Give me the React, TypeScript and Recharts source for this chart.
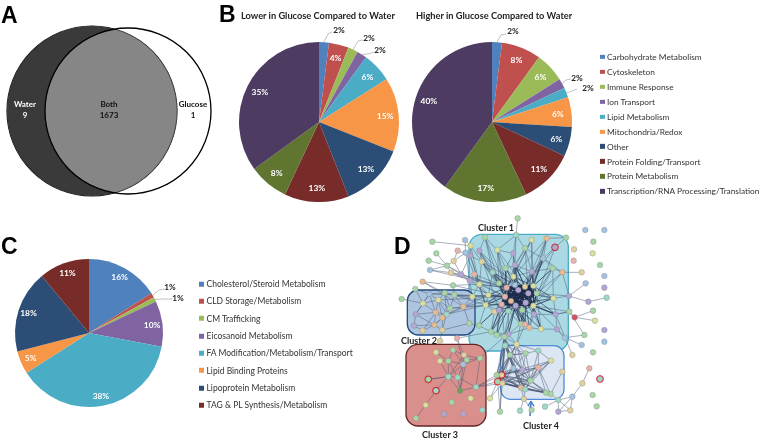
import { Pie, PieChart, Cell, ReferenceArea, ReferenceLine, Scatter, ScatterChart, XAxis, YAxis } from 'recharts'

const FONT = 'Lato, "Open Sans", sans-serif'
const LETTER_FONT = '"Liberation Sans", Arial, sans-serif'

// panel A, venn counts
const vennLabels = [
  { name: 'Water', count: '9', color: '#fff' },
  { name: 'Both', count: '1673', color: '#111' },
  { name: 'Glucose', count: '1', color: '#111' },
]
const vennCircles = [
  { set: 'Water', x: 92, y: 111, r: 85 },
  { set: 'Glucose', x: 128, y: 111, r: 83 },
]

// panel B
const processNames = [
  'Carbohydrate Metabolism',
  'Cytoskeleton',
  'Immune Response',
  'Ion Transport',
  'Lipid Metabolism',
  'Mitochondria/Redox',
  'Other',
  'Protein Folding/Transport',
  'Protein Metabolism',
  'Transcription/RNA Processing/Translation',
]
const lowerPct = [2, 4, 2, 2, 6, 15, 13, 13, 8, 35]
const higherPct = [2, 8, 6, 2, 2, 6, 6, 11, 17, 40]

// panel C
const lipidNames = [
  'Cholesterol/Steroid Metabolism',
  'CLD Storage/Metabolism',
  'CM Trafficking',
  'Eicosanoid Metabolism',
  'FA Modification/Metabolism/Transport',
  'Lipid Binding Proteins',
  'Lipoprotein Metabolism',
  'TAG & PL Synthesis/Metabolism',
]
const lipidPct = [16, 1, 1, 10, 38, 5, 18, 11]

const SLICE_COLORS = ['#4F81BD', '#C0504D', '#9BBB59', '#8064A2', '#4BACC6', '#F79646', '#2C4D75', '#772C2A', '#5F7530', '#4D3B62']

// panel D, network layout: [id, x, y, tint]
const networkNodes: [string, number, number, string][] = [
  ['c1', 300, 67, 'g'], ['c2', 257, 92, 'y'], ['c3', 283, 107, 'p'], ['c4', 242, 113, 'b'], ['c5', 256, 122, 'p'],
  ['c6', 337, 105, 'y'], ['c7', 385, 115, 'p'], ['c8', 420, 100, 'g'], ['c9', 440, 75, 'y'], ['c10', 485, 70, 'o'],
  ['c11', 510, 97, 'p'], ['c12', 475, 130, 'b'], ['c13', 290, 140, 'n'], ['c14', 390, 150, 'p'], ['c15', 503, 160, 'g'],
  ['c16', 532, 172, 'o'], ['c17', 362, 160, 'g'], ['c18', 440, 170, 'p'], ['c19', 323, 172, 't'], ['c20', 268, 178, 's'],
  ['c21', 385, 185, 'y'], ['c22', 254, 197, 'p'], ['c23', 283, 208, 'y'], ['c24', 342, 205, 'g'], ['c25', 445, 213, 'y'],
  ['c26', 430, 235, 'p'], ['c27', 365, 218, 's'], ['c28', 360, 245, 's'], ['c29', 350, 268, 's'], ['c30', 378, 258, 'o'],
  ['c31', 302, 270, 'y'], ['c32', 328, 290, 'n'], ['c33', 342, 285, 'p'], ['c34', 370, 288, 't'], ['c35', 422, 263, 'p'],
  ['c36', 445, 272, 'y'], ['c37', 392, 272, 'p'], ['c38', 412, 285, 'g'], ['c39', 447, 298, 'p'], ['c40', 505, 250, 'y'],
  ['c41', 512, 298, 'p'], ['c42', 407, 327, 'g'], ['c43', 420, 328, 's'], ['c44', 433, 338, 'o'], ['c45', 468, 342, 'y'],
  ['c46', 516, 343, 'p'], ['c47', 318, 350, 'g'], ['c48', 335, 360, 'g'], ['c49', 370, 358, 'p'], ['c50', 358, 365, 'g'],
  ['c51', 395, 388, 'y'], ['c52', 540, 368, 'b'], ['c53', 360, 392, 't'], ['c54', 282, 332, 'g'], ['c55', 393, 60, 't'],
  ['c56', 310, 240, 'y'], ['c57', 400, 225, 'p'], ['c58', 420, 215, 'n'], ['c59', 390, 210, 'b'], ['c60', 455, 235, 'g'],
  ['l1', 133, 237, 'b'], ['l2', 179, 234, 'g'], ['l3', 208, 240, 'g'], ['l4', 262, 245, 'y'], ['l5', 114, 265, 'y'],
  ['l6', 160, 255, 'y'], ['l7', 235, 275, 'o'], ['l8', 195, 280, 'g'], ['l9', 92, 298, 'p'], ['l10', 152, 292, 'o'],
  ['l11', 185, 298, 't'], ['l12', 172, 308, 'o'], ['l13', 87, 332, 'p'], ['l14', 148, 330, 'o'], ['l15', 113, 347, 'n'],
  ['l16', 172, 345, 'n'], ['l17', 253, 325, 'g'],
  ['r1', 153, 412, 'y'], ['r2', 204, 405, 'g'], ['r3', 237, 420, 'n'], ['r4', 165, 438, 'y'], ['r5', 190, 438, 'g'],
  ['r6', 285, 430, 'g'], ['r7', 235, 448, 'b'], ['r8', 245, 435, 'g'], ['r9', 190, 485, 't'], ['r10', 218, 487, 't'],
  ['r11', 130, 493, 'g'], ['r12', 153, 527, 't'], ['r13', 225, 527, 'd'], ['r14', 273, 516, 't'], ['r15', 122, 570, 'y'],
  ['r16', 93, 610, 'g'], ['r17', 200, 562, 'g'], ['r18', 257, 550, 'y'], ['r19', 177, 597, 'p'], ['r20', 235, 597, 'p'],
  ['r21', 292, 585, 't'],
  ['f1', 422, 415, 'g'], ['f2', 460, 407, 't'], ['f3', 498, 437, 'y'], ['f4', 460, 458, 's'], ['f5', 412, 465, 'p'],
  ['f6', 437, 497, 'g'], ['f7', 408, 518, 'o'], ['f8', 420, 523, 't'], ['f9', 497, 537, 'g'], ['f10', 483, 533, 'g'],
  ['f11', 417, 552, 'n'], ['f12', 350, 480, 'n'], ['f13', 335, 480, 'g'], ['f14', 338, 500, 'g'], ['f15', 352, 505, 'n'],
  ['f16', 532, 470, 'n'], ['f17', 375, 420, 'g'], ['f18', 385, 460, 'b'],
  ['x1', 398, 10, 'g'], ['x2', 601, 45, 'b'], ['x3', 658, 45, 'b'], ['x4', 543, 68, 'g'], ['x5', 625, 80, 'g'],
  ['x6', 567, 103, 'n'], ['x7', 623, 115, 'y'], ['x8', 566, 137, 's'], ['x9', 645, 150, 'g'], ['x10', 590, 172, 'n'],
  ['x11', 658, 183, 'b'], ['x12', 602, 205, 'b'], ['x13', 658, 218, 'p'], ['x14', 665, 248, 't'], ['x15', 610, 260, 'p'],
  ['x16', 552, 243, 'p'], ['x17', 624, 287, 'g'], ['x18', 569, 307, 'r'], ['x19', 630, 317, 'y'], ['x20', 553, 290, 'g'],
  ['x21', 658, 345, 'p'], ['x22', 658, 380, 'b'], ['x23', 598, 360, 'g'], ['x24', 590, 390, 'b'], ['x25', 562, 420, 'n'],
  ['x26', 624, 412, 'g'], ['x27', 613, 460, 's'], ['x28', 645, 492, 't'], ['x29', 592, 505, 'n'], ['x30', 623, 540, 'g'],
  ['x31', 635, 574, 'g'], ['x32', 562, 545, 'b'], ['x33', 556, 586, 'n'], ['x34', 520, 590, 'p'], ['x35', 520, 555, 't'],
  ['x36', 142, 80, 'g'], ['x37', 240, 75, 'b'], ['x38', 218, 107, 's'], ['x39', 154, 115, 'g'], ['x40', 131, 137, 'g'],
  ['x41', 186, 152, 'g'], ['x42', 206, 138, 'n'], ['x43', 135, 165, 'b'], ['x44', 198, 173, 'n'], ['x45', 228, 178, 'p'],
  ['x46', 113, 200, 'o'], ['x47', 204, 211, 'g'], ['x48', 91, 222, 'g'], ['x49', 50, 252, 'g'], ['x50', 165, 378, 'n'],
  ['x51', 216, 370, 's'], ['x52', 315, 550, 'y'], ['x53', 345, 590, 'g'], ['x54', 405, 587, 't'], ['x55', 440, 585, 'g'],
  ['x56', 480, 575, 't'],
]

// the dense knot in the middle of cluster 1
const hubNodes = ['c25', 'c26', 'c27', 'c28', 'c29', 'c30', 'c35', 'c36', 'c37', 'c57', 'c58', 'c59', 'c60']

// first id links to every id after it
const networkLinks = [
  'x1 c55', 'c55 c7 c14 c6 c8', 'c1 c3 c6 c19 c24 c27', 'c2 c5 c13 c23', 'c3 c13 c19 c28 c33', 'c4 c5 c22 c20',
  'c5 c13 c23 c31', 'c6 c7 c17 c24 c28', 'c7 c14 c17 c21 c59', 'c8 c14 c18 c26 c12', 'c9 c18 c25 c14', 'c10 c12 c18 c25',
  'c11 c12 c58 c36', 'c12 c18 c25 c15 c26 c35', 'c13 c19 c24 c23 c28', 'c14 c17 c21 c27 c57 c18', 'c15 c18 c25 c60 c40 c16',
  'c17 c21 c24 c27 c59', 'c18 c25 c21 c57 c60', 'c19 c24 c27 c56', 'c20 c22 c23 c31 c27', 'c21 c59 c27 c57 c26',
  'c22 c23 c56 l4', 'c23 c56 c28 c31', 'c24 c27 c59 c28 c30', 'c31 c56 c28 c32 c33 c54', 'c32 c33 c34 c47 c54', 'c33 c34 c28 c29 c37',
  'c34 c37 c38 c30 c49 c42', 'c38 c39 c42 c43 c35 c37', 'c39 c36 c41 c45 c44', 'c40 c60 c36 c41 x16', 'c41 c36 c35 c46 x20',
  'c42 c43 c44 c37 c30 c49', 'c43 c44 c35 c38', 'c44 c45 c36 c49', 'c45 c46 c36 c60', 'c46 c52 c36', 'c47 c48 c29 c34 c49',
  'c48 c49 c50 c33', 'c49 c50 c51 c37', 'c50 c53 c51 c29 c30', 'c51 c53 c42 c43', 'c54 c47 l17', 'c56 c29 c28 l4 l7',
  'l1 l2 l5 l6 l9 l10', 'l2 l3 l6 l8 l11', 'l3 l4 l7 l8', 'l4 l7 c23 c28', 'l5 l6 l9 l10', 'l6 l8 l10 l11 l12', 'l7 l8 l11 l17 c29 c28',
  'l8 l11 l12 c29', 'l9 l10 l13 l14', 'l10 l11 l12 l14 l15', 'l11 l12 l14 l16 c31', 'l12 l14 l16 l7', 'l13 l14 l15', 'l14 l15 l16', 'l16 l17',
  'x46 x47 l2 l7', 'x47 c23 l3 c28', 'x48 l1 l5', 'x49 l5', 'x43 x44 x41 c27', 'x41 x42 x44 x45 c28', 'x44 x45 c22 c27', 'x45 c22 c5 c27', 'x38 c5 x42', 'x37 c4 c2',
  'x39 x41', 'x40 x41', 'x36 c2', 'x42 c4 x45',
  'l1 c28', 'l2 c29', 'l6 c28', 'l3 c28 c31', 'c13 c27 c30 c58', 'c3 c27 c59', 'c6 c58 c27', 'c16 c60 c36', 'c15 c36', 'c10 c26 c21', 'c9 c21 c27', 'x4 c11', 'x10 c16',
  'c52 c46 c41', 'x16 c60', 'x20 c41 c36',
  'r1 r5', 'r2 r5 r7 r3', 'r3 r6 r7 r9', 'r4 r5 r9', 'r5 r9 r10 r7', 'r6 r7 r14 c50', 'r7 r8 r9 r10 r13', 'r8 r6 r13', 'r9 r10 r11 r12 r13', 'r10 r13 r14',
  'r12 r15', 'r15 r16', 'r13 r14', 'r14 f13 f14', 'r11 r9', 'x51 r7 r3 c47', 'x50 l16',
  'f1 f2 f5 f6 c51 f17', 'f2 f3 f4 f6 c51', 'f3 f4 f6 f7 f8', 'f4 f5 f6 f7 f8 f9 f10', 'f5 f6 f7 f8 f12 f13 f18', 'f6 f7 f8 f9 f10 f12 f15',
  'f7 f8 f10 f12 f13 f14 f15', 'f8 f9 f10 f12 f14 f15 f18', 'f9 f10 f16', 'f11 f7 f8', 'f12 f13 f14 f15 f17 c53', 'f13 f14 f17 c53 c50', 'f14 f15 f18 x52', 'f15 f18',
  'f17 c53 c51 f18 c50 f1', 'f18 c53 f12 f13 f1', 'x53 f14', 'x54 f11', 'x55 f11',
  'c53 f1 f5 f7 f8 f12 f13 f15 f18', 'c50 f5 f12 f14 f17 f18 f15', 'c51 f5 f12 f17 f18 f6', 'f17 f5 f6 f7 f8 f12 f13 f14 f15', 'f18 f6 f7 f8 f15 f10 f14',
  'f12 f4 f9 f10 f3', 'f13 f6 f7 f8', 'f14 f6 f10 f9', 'f15 f10 f9 f4 f3', 'r14 f15 f12', 'x52 f15', 'x53 f15 f12',
  'c52 x24 x23 x25', 'x20 x16 x18 x23', 'x16 x12 x15 c16', 'x15 x14', 'x18 x19', 'x17 x18', 'x32 x35 x33 x34 x29', 'x35 x34 x33 x56 f9', 'x29 x27', 'x33 x34', 'c10 x4', 'c12 c16',
]
// heavier spokes running out of the knot
const spokeLinks = [
  'c27 c17 c21 c24 c19 c33 c34 c38 c31 c56 c23', 'c28 c17 c24 c19 c33 c34 c38 c56 c31 c32', 'c26 c14 c18 c21 c38 c39 c34 c41 c40',
  'c35 c38 c39 c34 c33 c42 c43 c44 c40 c41', 'c36 c38 c39 c40 c41 c45', 'c30 c33 c34 c38 c42 c43 c47 c48', 'c37 c38 c42 c43 c44 c45 c50 c49',
  'c25 c14 c18 c21 c40 c15 c12', 'c58 c14 c18 c12', 'c57 c21 c14 c24', 'c29 c31 c32 c33 c47 c48 c54', 'c59 c14 c17 c19',
]
const ringedNodes = ['c11', 'r11', 'r12', 'x28', 'f12', 'f14']

const clusterBoxes = [
  { name: 'Cluster 1', x1: 252, x2: 550, y1: 58, y2: 408, fill: '#abd9e3', stroke: '#4BACC6', radius: 13 },
  { name: 'Cluster 4', x1: 347, x2: 537, y1: 392, y2: 553, fill: '#dde7f3', stroke: '#4f8ad8', radius: 10 },
  { name: 'Cluster 2', x1: 67, x2: 270, y1: 225, y2: 360, fill: '#aec5df', stroke: '#1f497d', radius: 11 },
  { name: 'Cluster 3', x1: 63, x2: 303, y1: 388, y2: 633, fill: '#d98f8c', stroke: '#632523', radius: 12 },
]
const clusterLabels = [
  { name: 'Cluster 1', left: 496, top: 227 },
  { name: 'Cluster 2', left: 419, top: 340 },
  { name: 'Cluster 3', left: 440, top: 434 },
  { name: 'Cluster 4', left: 541, top: 425 },
]

const TINTS: Record<string, string> = {
  g: '#a8d6a6', t: '#9ed8c8', p: '#b3a5d8', b: '#a4c2e2', o: '#ecba90', y: '#dcdf9c', s: '#e8b2ac', n: '#e2d09e', d: '#6f9e58', r: '#d8506a',
}

// leader lines for slices too thin to hold their label, offsets in px from the pie centre
type Callout = { elbow: [number, number]; end: [number, number]; text: [number, number] }
const lowerCallouts: Record<number, Callout> = {
  0: { elbow: [9, -88], end: [13, -90], text: [20, -92] },
  2: { elbow: [39, -81], end: [44, -82], text: [50, -84] },
  3: { elbow: [49, -68], end: [55, -70], text: [61, -72] },
}
const higherCallouts: Record<number, Callout> = {
  0: { elbow: [9, -87], end: [14, -88], text: [21, -91] },
  3: { elbow: [74, -42], end: [79, -43], text: [85, -44] },
  4: { elbow: [78, -30], end: [85, -33], text: [96, -34] },
}
const lipidCallouts: Record<number, Callout> = {
  1: { elbow: [70, -43], end: [76, -44], text: [81, -46] },
  2: { elbow: [74, -34], end: [83, -34], text: [89, -35] },
}

const RAD = Math.PI / 180

function sliceLabel(callouts: Record<number, Callout>, insideAt: number) {
  return (props: any) => {
    const { cx, cy, midAngle, outerRadius, index, value } = props
    const callout = callouts[index]
    if (callout) {
      const sx = cx + outerRadius * Math.cos(midAngle * RAD)
      const sy = cy - outerRadius * Math.sin(midAngle * RAD)
      return (
        <g>
          <polyline
            points={`${sx},${sy} ${cx + callout.elbow[0]},${cy + callout.elbow[1]} ${cx + callout.end[0]},${cy + callout.end[1]}`}
            fill="none"
            stroke="#a6a6a6"
            strokeWidth={0.7}
          />
          <text x={cx + callout.text[0]} y={cy + callout.text[1]} textAnchor="middle" dominantBaseline="central" fontSize={8.2} fontWeight={700} fontFamily={FONT} fill="#1a1a1a">
            {value}%
          </text>
        </g>
      )
    }
    return (
      <text
        x={cx + insideAt * outerRadius * Math.cos(midAngle * RAD)}
        y={cy - insideAt * outerRadius * Math.sin(midAngle * RAD)}
        textAnchor="middle"
        dominantBaseline="central"
        fontSize={8.4}
        fontWeight={700}
        fontFamily={FONT}
        fill="#fff"
      >
        {value}%
      </text>
    )
  }
}

const toRows = (names: string[], pct: number[]) => names.map((name, i) => ({ name, value: pct[i] }))

function SwatchLegend({ names, left, top, step, fontSize, swatch }: { names: string[]; left: number; top: number; step: number; fontSize: number; swatch: number }) {
  return (
    <>
      {names.map((name, i) => (
        <div
          key={name}
          style={{ position: 'absolute', left, top: top + i * step, transform: 'translateY(-50%)', display: 'flex', alignItems: 'center', gap: 2.5, fontFamily: FONT, fontSize, color: '#333', whiteSpace: 'nowrap', lineHeight: 1 }}
        >
          <span style={{ width: swatch, height: swatch, background: SLICE_COLORS[i], display: 'inline-block' }} />
          {name}
        </div>
      ))}
    </>
  )
}

function PanelLetter({ letter, left, top }: { letter: string; left: number; top: number }) {
  return (
    <div style={{ position: 'absolute', left, top, fontFamily: LETTER_FONT, fontWeight: 700, fontSize: 23, lineHeight: 1, color: '#000' }}>{letter}</div>
  )
}

function VennShape(props: any) {
  const { cx, cy, payload } = props
  const [water, glucose] = vennCircles
  if (payload.set === 'Water') {
    return <circle cx={cx} cy={cy} r={water.r} fill="#3a3a3a" stroke="#111" strokeWidth={1.2} />
  }
  // lens: glucose disc clipped to the water disc, glucose outline stays on top
  const waterX = cx + water.x - glucose.x
  return (
    <g>
      <clipPath id="water-disc">
        <circle cx={waterX} cy={cy} r={water.r} />
      </clipPath>
      <circle cx={cx} cy={cy} r={glucose.r} fill="#868686" clipPath="url(#water-disc)" />
      <circle cx={waterX} cy={cy} r={water.r} fill="none" stroke="#555" strokeWidth={1} clipPath="url(#water-disc)" />
      <circle cx={cx} cy={cy} r={glucose.r} fill="none" stroke="#000" strokeWidth={1.3} />
    </g>
  )
}

function NetworkNode(props: any) {
  const { cx, cy, payload } = props
  return (
    <g>
      <circle cx={cx} cy={cy} r={2.8} fill={TINTS[payload.tint]} stroke="#7d8a85" strokeWidth={0.4} />
      {payload.ringed ? <circle cx={cx} cy={cy} r={3.4} fill="none" stroke="#d8202a" strokeWidth={1} /> : null}
    </g>
  )
}

function VennChart() {
  return (
    <div style={{ position: 'absolute', left: 0, top: 0 }}>
      <ScatterChart width={220} height={210} margin={{ top: 0, right: 0, bottom: 0, left: 0 }}>
        <XAxis type="number" dataKey="x" domain={[0, 220]} hide />
        <YAxis type="number" dataKey="y" domain={[0, 210]} reversed hide />
        <Scatter data={vennCircles.slice(0, 1)} shape={VennShape} isAnimationActive={false} />
        <Scatter data={vennCircles.slice(1)} shape={VennShape} isAnimationActive={false} />
      </ScatterChart>
    </div>
  )
}

function expandLinks(lines: string[]) {
  const out: [string, string][] = []
  lines.forEach((line) => {
    const [from, ...to] = line.split(' ')
    to.forEach((t) => out.push([from, t]))
  })
  return out
}

function NetworkChart() {
  const byId = new Map(networkNodes.map(([id, x, y]) => [id, { x, y }]))
  const rows = networkNodes.map(([id, x, y, tint]) => ({ id, x, y, tint, ringed: ringedNodes.includes(id) }))
  const links = expandLinks(networkLinks)
  const spokes = expandLinks(spokeLinks)
  const hubLinks: [string, string][] = []
  hubNodes.forEach((a, i) => hubNodes.slice(i + 1).forEach((b) => hubLinks.push([a, b])))
  const seg = ([a, b]: [string, string]) => [byId.get(a)!, byId.get(b)!] as any

  return (
    <div style={{ position: 'absolute', left: 385, top: 215 }}>
      <ScatterChart width={240} height={226} margin={{ top: 0, right: 0, bottom: 0, left: 0 }}>
        <XAxis type="number" dataKey="x" domain={[0, 720]} hide />
        <YAxis type="number" dataKey="y" domain={[0, 678]} reversed hide />
        {clusterBoxes.map((b) => (
          <ReferenceArea key={b.name} x1={b.x1} x2={b.x2} y1={b.y1} y2={b.y2} fill={b.fill} fillOpacity={1} stroke={b.stroke} strokeWidth={1.3} radius={b.radius} ifOverflow="visible" />
        ))}
        {links.map((l, i) => (
          <ReferenceLine key={`l${i}`} segment={seg(l)} stroke="#4a5874" strokeOpacity={0.8} strokeWidth={0.6} ifOverflow="visible" />
        ))}
        {spokes.map((l, i) => (
          <ReferenceLine key={`s${i}`} segment={seg(l)} stroke="#2a3858" strokeOpacity={0.85} strokeWidth={0.8} ifOverflow="visible" />
        ))}
        {hubLinks.map((l, i) => (
          <ReferenceLine key={`h${i}`} segment={seg(l)} stroke="#1f2c4d" strokeWidth={1.1} ifOverflow="visible" />
        ))}
        <ReferenceLine segment={[{ x: 435, y: 603 }, { x: 438, y: 562 }] as any} stroke="#4a7fc4" strokeWidth={1.6} ifOverflow="visible" />
        <ReferenceLine segment={[{ x: 429, y: 573 }, { x: 438, y: 558 }] as any} stroke="#4a7fc4" strokeWidth={1.4} ifOverflow="visible" />
        <ReferenceLine segment={[{ x: 447, y: 574 }, { x: 438, y: 558 }] as any} stroke="#4a7fc4" strokeWidth={1.4} ifOverflow="visible" />
        <Scatter data={rows} shape={NetworkNode} isAnimationActive={false} />
      </ScatterChart>
    </div>
  )
}

function PieSet({ rows, callouts, cx, cy, r, insideAt }: any) {
  return (
    <Pie
      data={rows}
      dataKey="value"
      nameKey="name"
      cx={cx}
      cy={cy}
      outerRadius={r}
      startAngle={90}
      endAngle={-270}
      stroke="none"
      label={sliceLabel(callouts, insideAt)}
      labelLine={false}
      isAnimationActive={false}
    >
      {rows.map((row: any, i: number) => (
        <Cell key={row.name} fill={SLICE_COLORS[i]} />
      ))}
    </Pie>
  )
}

const titleStyle = { position: 'absolute', top: 10, fontFamily: FONT, fontWeight: 700, fontSize: 9.25, color: '#222', whiteSpace: 'nowrap', lineHeight: '12px' } as const

export default function App() {
  return (
    <div style={{ position: 'absolute', left: 0, top: 0, width: 768, height: 441, overflow: 'hidden', background: '#fff', filter: 'blur(0.35px)' }}>
      <VennChart />
      {vennLabels.map((v, i) => (
        <div key={v.name} style={{ position: 'absolute', left: [25, 109, 193][i], top: 99, transform: 'translateX(-50%)', textAlign: 'center', fontFamily: FONT, fontSize: 8, fontWeight: 700, lineHeight: '11px', color: v.color, whiteSpace: 'nowrap' }}>
          {v.name}
          <br />
          {v.count}
        </div>
      ))}

      <div style={{ position: 'absolute', left: 0, top: 0 }}>
        <PieChart width={768} height={441} margin={{ top: 0, right: 0, bottom: 0, left: 0 }}>
          {PieSet({ rows: toRows(processNames, lowerPct), callouts: lowerCallouts, cx: 319, cy: 122, r: 80, insideAt: 0.83 })}
          {PieSet({ rows: toRows(processNames, higherPct), callouts: higherCallouts, cx: 492, cy: 122, r: 80, insideAt: 0.83 })}
          {PieSet({ rows: toRows(lipidNames, lipidPct), callouts: lipidCallouts, cx: 89, cy: 333, r: 74, insideAt: 0.86 })}
        </PieChart>
      </div>

      <div style={{ ...titleStyle, left: 241 }}>Lower in Glucose Compared to Water</div>
      <div style={{ ...titleStyle, left: 416 }}>Higher in Glucose Compared to Water</div>

      <SwatchLegend names={processNames} left={600} top={57} step={14.93} fontSize={8.3} swatch={4.5} />
      <SwatchLegend names={lipidNames} left={199} top={284} step={17.33} fontSize={8.5} swatch={5} />

      <NetworkChart />
      {clusterLabels.map((c) => (
        <div key={c.name} style={{ position: 'absolute', left: c.left, top: c.top, transform: 'translate(-50%,-50%)', fontFamily: FONT, fontWeight: 700, fontSize: 9, color: '#222', whiteSpace: 'nowrap', lineHeight: 1 }}>
          {c.name}
        </div>
      ))}

      <PanelLetter letter="A" left={1} top={4} />
      <PanelLetter letter="B" left={219} top={3} />
      <PanelLetter letter="C" left={1} top={235} />
      <PanelLetter letter="D" left={394} top={235} />
    </div>
  )
}
